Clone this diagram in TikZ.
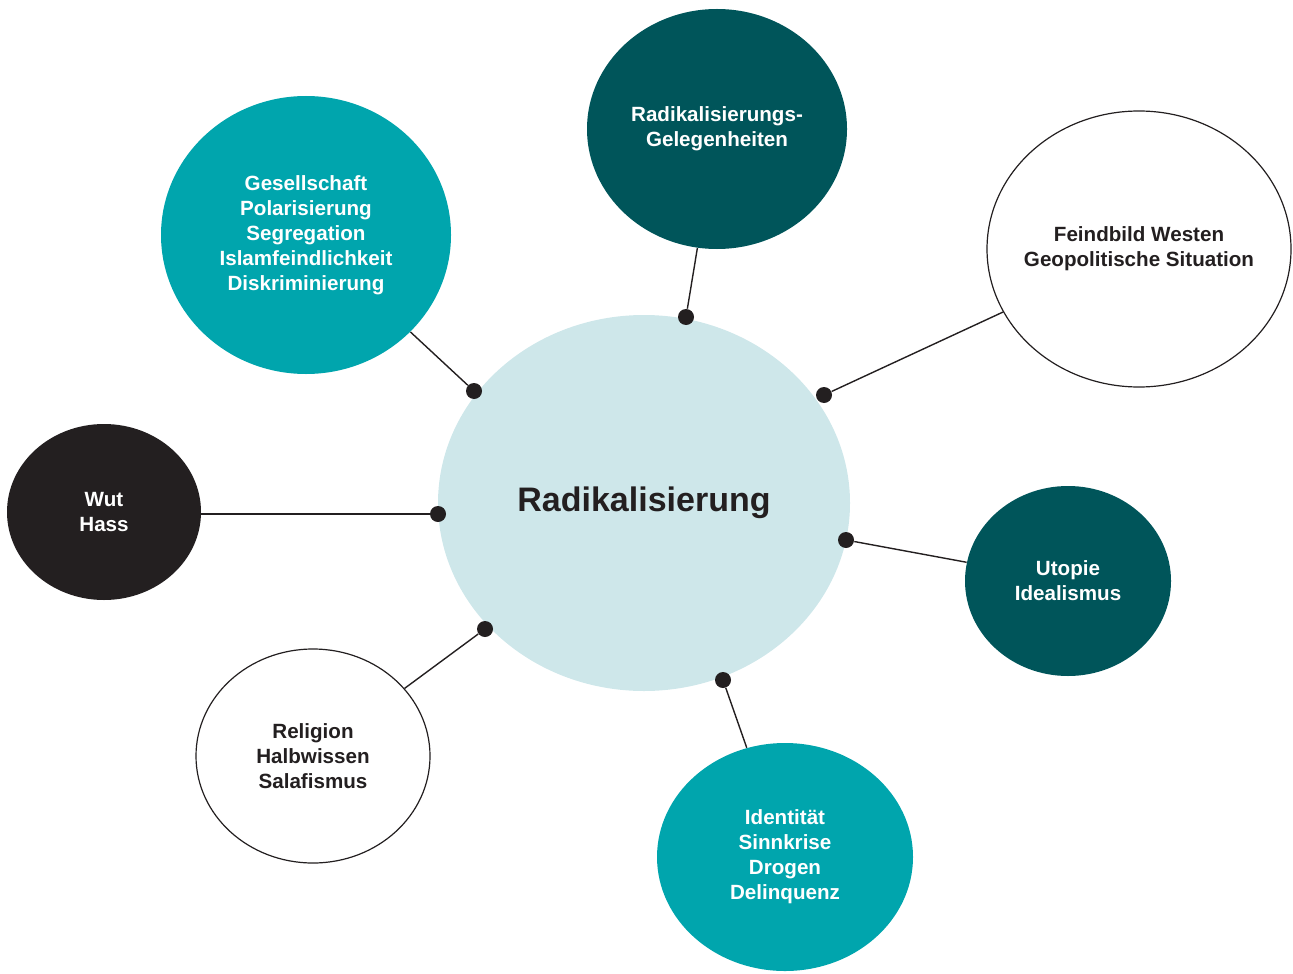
\documentclass[tikz,border=0pt]{standalone}
\usepackage{fontspec}
\setmainfont{Liberation Sans}
\usetikzlibrary{shapes.geometric}

\definecolor{teal1}{HTML}{00A5AD}
\definecolor{teal2}{HTML}{00555A}
\definecolor{pale}{HTML}{CEE7EA}
\definecolor{ink}{HTML}{231F20}

\tikzset{
	blob/.style={ellipse, inner sep=0pt, align=center, font=\fontsize{10.3}{12.5}\selectfont\bfseries},
	blobwhite/.style={blob, draw=ink, line width=0.6pt, fill=white, text=ink},
	dot/.style={circle, fill=ink, inner sep=0pt, minimum size=8pt},
	link/.style={draw=ink, line width=0.7pt},
}

\begin{document}
\begin{tikzpicture}[x=0.5pt,y=-0.5pt]
			\useasboundingbox (0,0) rectangle (1293,973);
			% the blobs
			\node[blob, fill=pale, text=ink, minimum width=206pt, minimum height=188pt,
				font=\fontsize{17}{20}\selectfont\bfseries] (radi) at (644,503) {Radikalisierung};
			\node[blob, fill=teal1, text=white, minimum width=145pt, minimum height=139pt] (ges) at (306,235)
				{Gesellschaft\\Polarisierung\\Segregation\\Islamfeindlichkeit\\Diskriminierung};
			\node[blob, fill=teal2, text=white, minimum width=130pt, minimum height=120pt] (gel) at (717,129)
				{Radikalisierungs-\\Gelegenheiten};
			\node[blobwhite, inner xsep=-8pt, minimum width=152pt, minimum height=138pt] (feind) at (1139,249)
				{Feindbild Westen\\Geopolitische Situation};
			\node[blob, fill=ink, text=white, minimum width=97pt, minimum height=88pt] (wut) at (104,512)
				{Wut\\Hass};
			\node[blob, fill=teal2, text=white, minimum width=103pt, minimum height=95pt] (uto) at (1068,581)
				{Utopie\\Idealismus};
			\node[blobwhite, minimum width=117pt, minimum height=107pt] (rel) at (313,756)
				{Religion\\Halbwissen\\Salafismus};
			\node[blob, fill=teal1, text=white, minimum width=128pt, minimum height=114pt] (ident) at (785,857)
				{Identität\\Sinnkrise\\Drogen\\Delinquenz};
			
			% dots on the central blob
			\node[dot] (p1) at (686,317) {};
			\node[dot] (p2) at (474,391) {};
			\node[dot] (p3) at (824,395) {};
			\node[dot] (p4) at (438,514) {};
			\node[dot] (p5) at (846,540) {};
			\node[dot] (p6) at (485,629) {};
			\node[dot] (p7) at (723,680) {};
			
			\draw[link] (p1) -- (gel);
			\draw[link] (p2) -- (ges);
			\draw[link] (p3) -- (feind);
			\draw[link] (p4) -- (p4 -| wut.east);
			\draw[link] (p5) -- (uto);
			\draw[link] (p6) -- (rel);
			\draw[link] (p7) -- (ident);
	\end{tikzpicture}
\end{document}
